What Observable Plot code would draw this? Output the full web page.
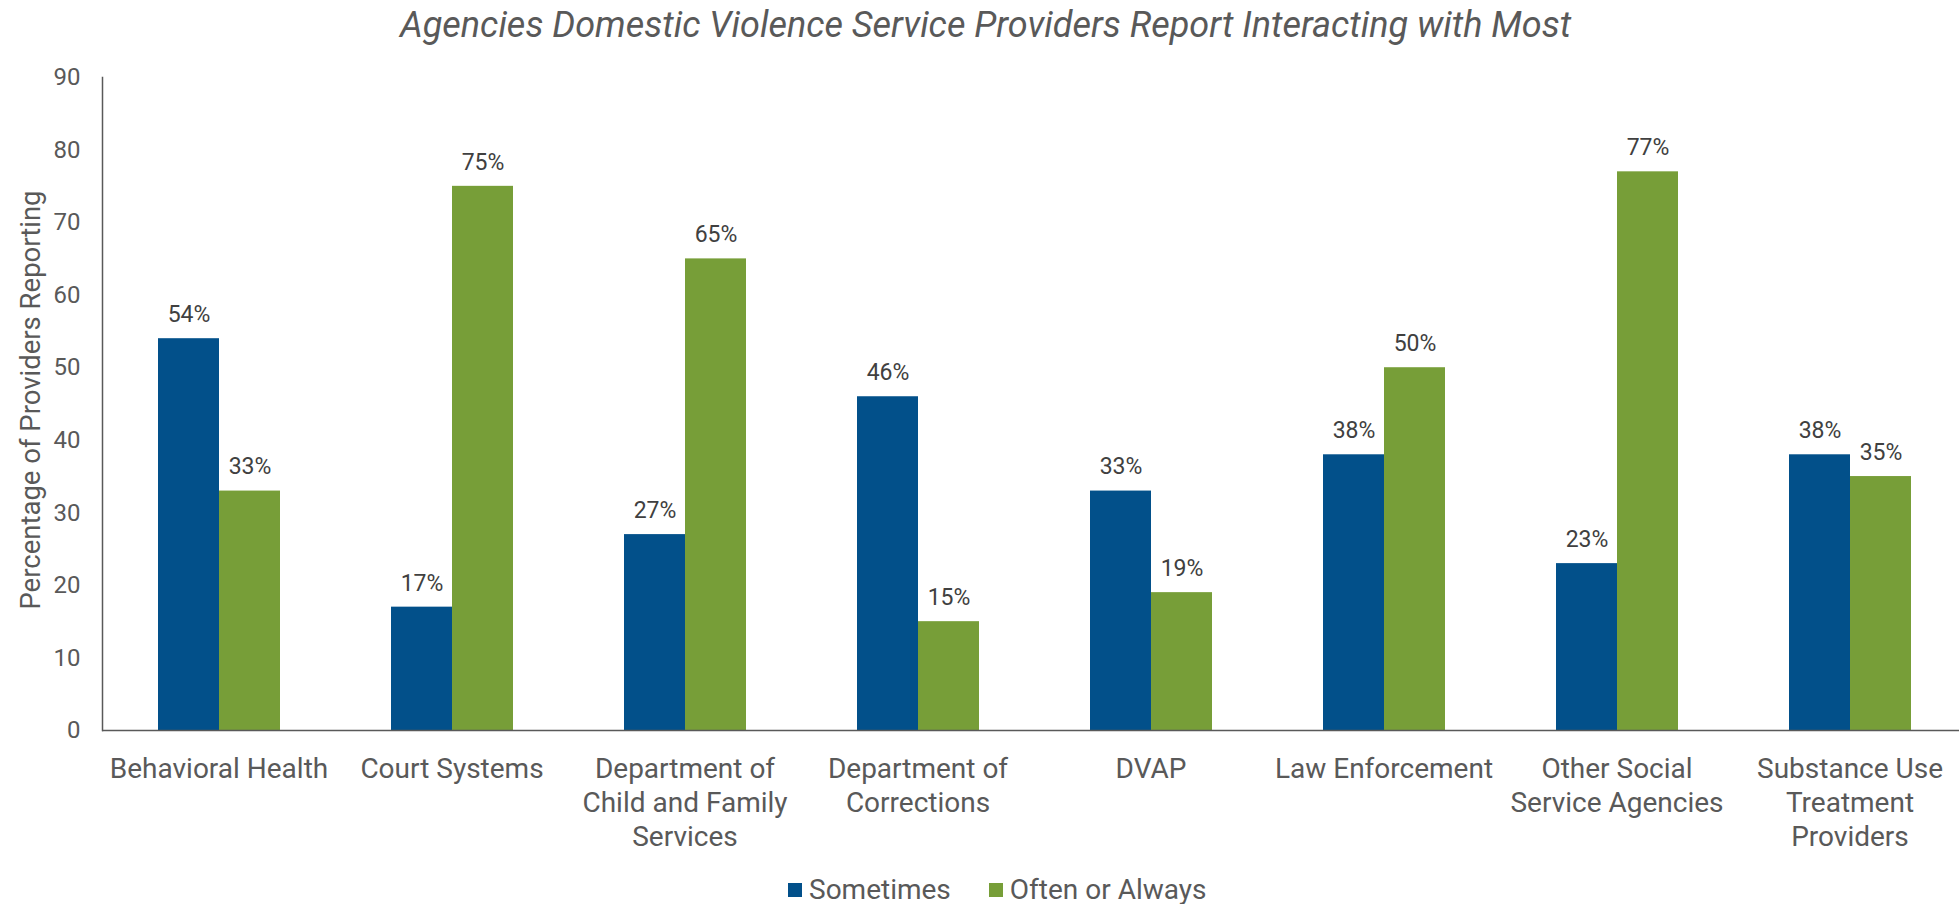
<!DOCTYPE html>
<html>
<head>
<meta charset="utf-8">
<script src="https://cdn.jsdelivr.net/npm/d3@7"></script>
<script src="https://cdn.jsdelivr.net/npm/@observablehq/plot@0.6"></script>
<style>
  html, body { margin: 0; padding: 0; background: #fff; }
  body { width: 1959px; height: 904px; overflow: hidden; position: relative; font-family: Roboto, "Open Sans", sans-serif; }
  #title { position: absolute; top: 0; left: 0; width: 1959px; height: 55px; line-height: 50px; text-align: center; font-style: italic; font-size: 36px; color: #595959; padding-left: 12px; box-sizing: border-box; white-space: nowrap; }
  #chart { position: absolute; top: 55px; left: 0; width: 1967px; }
  #chart svg { max-width: none !important; }
  #legend { position: absolute; top: 873px; left: 788px; display: flex; align-items: center; font-size: 28px; line-height: 34px; color: #595959; }
  #legend .item { display: flex; align-items: center; margin-right: 38px; }
  #legend .sw { width: 14px; height: 14px; margin-right: 7px; }
</style>
</head>
<body>
<div id="title">Agencies Domestic Violence Service Providers Report Interacting with Most</div>
<div id="chart"></div>
<div id="legend"></div>
<script>
const categories = [
  "Behavioral Health",
  "Court Systems",
  "Department of Child and Family Services",
  "Department of Corrections",
  "DVAP",
  "Law Enforcement",
  "Other Social Service Agencies",
  "Substance Use Treatment Providers"
];
const tickLabels = [
  "Behavioral Health",
  "Court Systems",
  "Department of\nChild and Family\nServices",
  "Department of\nCorrections",
  "DVAP",
  "Law Enforcement",
  "Other Social\nService Agencies",
  "Substance Use\nTreatment\nProviders"
];
const series = ["Sometimes", "Often or Always"];
const sometimes = [54, 17, 27, 46, 33, 38, 23, 38];
const oftenOrAlways = [33, 75, 65, 15, 19, 50, 77, 35];
const yTicks = [0, 10, 20, 30, 40, 50, 60, 70, 80, 90];
const yTitle = "Percentage of Providers Reporting";
const colors = ["#02508A", "#779E38"];

const data = categories.flatMap((c, i) => [
  {category: c, series: series[0], value: sometimes[i]},
  {category: c, series: series[1], value: oftenOrAlways[i]}
]);

const chart = Plot.plot({
  width: 1967,
  height: 795,
  marginTop: 22,
  marginBottom: 120,
  marginLeft: 100,
  marginRight: 0,
  style: {fontFamily: "Roboto, 'Open Sans', sans-serif", color: "#595959", background: "white", overflow: "visible", maxWidth: "none"},
  fx: {domain: categories, padding: 0, label: null},
  x: {domain: series, paddingInner: 0, paddingOuter: 0.9, axis: null},
  y: {domain: [0, 90], label: null},
  color: {domain: series, range: colors},
  marks: [
    Plot.barY(data, {fx: "category", x: "series", y: "value", fill: "series"}),
    Plot.text(data, {fx: "category", x: "series", y: "value", text: d => d.value + "%", dy: -24, fontSize: 23, fill: "#404040"}),
    Plot.ruleY([0], {stroke: "#595959", strokeWidth: 1.5}),
    Plot.frame({anchor: "left", facetAnchor: "left", stroke: "#595959", strokeWidth: 1.5}),
    Plot.axisY({ticks: yTicks, tickSize: 0, tickPadding: 22, fontSize: 24, label: null}),
    Plot.text([yTitle], {frameAnchor: "left", facetAnchor: "left", textAnchor: "middle", lineAnchor: "middle", rotate: -90, dx: -71, dy: -4, fontSize: 27.5, fill: "#595959"}),
    Plot.axisFx({anchor: "bottom", tickSize: 0, tickPadding: 24, fontSize: 28, lineHeight: 1.2, lineAnchor: "top", label: null, tickFormat: c => tickLabels[categories.indexOf(c)]})
  ]
});
chart.style.maxWidth = "none";
document.getElementById("chart").appendChild(chart);

const legend = document.getElementById("legend");
series.forEach((s, i) => {
  const item = document.createElement("div");
  item.className = "item";
  const sw = document.createElement("div");
  sw.className = "sw";
  sw.style.background = colors[i];
  const t = document.createElement("span");
  t.textContent = s;
  item.appendChild(sw);
  item.appendChild(t);
  legend.appendChild(item);
});
</script>
</body>
</html>
